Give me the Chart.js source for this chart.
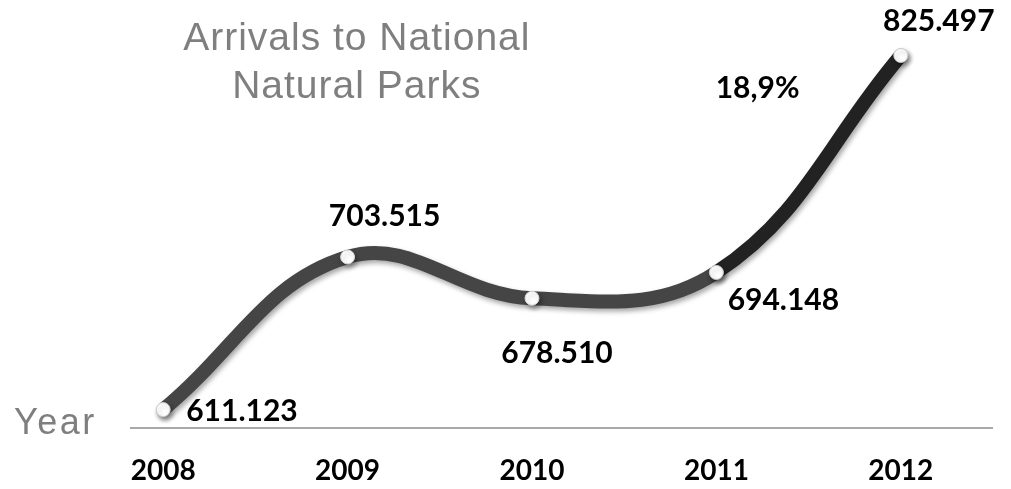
<!DOCTYPE html>
<html>
<head>
<meta charset="utf-8">
<script src="https://cdn.jsdelivr.net/npm/chart.js@4/dist/chart.umd.min.js"></script>
<style>
html,body{margin:0;padding:0;background:#fff;}
#wrap{width:1011px;height:489px;position:relative;}
</style>
</head>
<body>
<div id="wrap"><canvas id="c" width="1011" height="489"></canvas></div>
<script>
const years = ['2008','2009','2010','2011','2012'];
const arrivals = [611123, 703515, 678510, 694148, 825497];
const titleLines = ['Arrivals to National', 'Natural Parks'];
const axisName = 'Year';
const growthLabel = '18,9%';

function fmt(v){ return String(v).replace(/\B(?=(\d{3})+(?!\d))/g, '.'); }

// label offsets relative to each point (px), and alignment
const labelPlace = [
  {dx: 23, dy: 2, align: 'left'},
  {dx: 37, dy: -41, align: 'center'},
  {dx: 25, dy: 55, align: 'center'},
  {dx: 67, dy: 28, align: 'center'},
  {dx: 38, dy: -34, align: 'center'}
];

const decor = {
  id: 'decor',
  beforeDatasetsDraw(chart){
    const ctx = chart.ctx;
    const x = chart.scales.x, y = chart.scales.y;
    ctx.save();
    ctx.strokeStyle = '#8c8c8c';
    ctx.lineWidth = 1.5;
    const ay = y.getPixelForValue(y.min);
    ctx.beginPath(); ctx.moveTo(chart.chartArea.left, ay); ctx.lineTo(chart.chartArea.right, ay); ctx.stroke();
    // titles
    ctx.fillStyle = '#7f7f7f';
    ctx.font = '39px "Liberation Sans", Arial, sans-serif';
    ctx.letterSpacing = '1px';
    ctx.textAlign = 'center';
    ctx.textBaseline = 'alphabetic';
    const cx = (x.getPixelForValue(1) + x.getPixelForValue(2)) / 2 - 83;
    ctx.fillText(titleLines[0], cx, 50);
    ctx.fillText(titleLines[1], cx, 98);
    ctx.font = '36px "Liberation Sans", Arial, sans-serif';
    ctx.letterSpacing = '2.5px';
    ctx.textAlign = 'left';
    ctx.fillText(axisName, 14, 434);
    ctx.letterSpacing = '0px';
    ctx.restore();
  },
  beforeDatasetDraw(chart){
    const ctx = chart.ctx;
    ctx.save();
    ctx.shadowColor = 'rgba(0,0,0,0.35)';
    ctx.shadowBlur = 5;
    ctx.shadowOffsetX = 2;
    ctx.shadowOffsetY = 3;
  },
  afterDatasetDraw(chart){
    chart.ctx.restore();
  },
  afterDatasetsDraw(chart){
    const ctx = chart.ctx;
    const meta = chart.getDatasetMeta(0);
    ctx.save();
    ctx.fillStyle = '#000';
    ctx.font = 'bold 30px Lato, "Open Sans", sans-serif';
    ctx.textBaseline = 'middle';
    meta.data.forEach((pt, i) => {
      const p = labelPlace[i];
      ctx.textAlign = p.align;
      ctx.fillText(fmt(arrivals[i]), pt.x + p.dx, pt.y + p.dy);
    });
    // growth label between last two points
    const a = meta.data[3], b = meta.data[4];
    ctx.textAlign = 'center';
    ctx.fillText(growthLabel, (a.x + b.x) / 2 - 51, (a.y + b.y) / 2 - 76);
    ctx.restore();
  }
};

new Chart(document.getElementById('c'), {
  type: 'line',
  data: {
    datasets: [{
      data: arrivals.map((v, i) => ({x: i, y: v})),
      borderColor: '#454545',
      borderWidth: 14,
      tension: 0.4,
      borderCapStyle: 'round',
      segment: {
        borderColor: c => c.p1DataIndex === arrivals.length - 1 ? '#222222' : '#454545'
      },
      pointRadius: 7,
      pointBackgroundColor: '#ffffff',
      pointBorderColor: '#d0d0d0',
      pointBorderWidth: 1,
      fill: false
    }]
  },
  options: {
    responsive: false,
    animation: false,
    events: [],
    layout: {padding: {left: 130, right: 18, top: 15, bottom: 3}},
    plugins: {legend: {display: false}, tooltip: {enabled: false}, title: {display: false}},
    scales: {
      x: {
        type: 'linear',
        min: -0.18,
        max: 4.5,
        grid: {display: false, drawTicks: false},
        border: {display: false},
        afterBuildTicks: s => { s.ticks = years.map((_, i) => ({value: i})); },
        afterFit: s => { s.height = 58; },
        ticks: {
          autoSkip: false,
          maxRotation: 0,
          padding: 26,
          color: '#000',
          font: {family: 'Lato', weight: 'bold', size: 28},
          callback: v => years[v]
        }
      },
      y: {
        display: false,
        min: 600000,
        max: 850000
      }
    }
  },
  plugins: [decor]
});
</script>
</body>
</html>
